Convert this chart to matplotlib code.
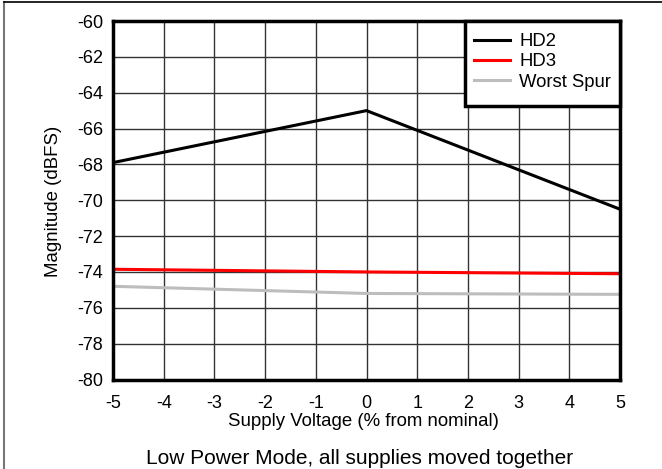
import matplotlib
matplotlib.use("Agg")
import matplotlib.pyplot as plt
from matplotlib.lines import Line2D
from matplotlib.patches import Rectangle

plt.rcParams['font.family'] = ['Liberation Sans', 'DejaVu Sans']

x_vals = [-5, 0, 5]
hd2 = [-67.9, -65.0, -70.5]
hd3 = [-73.85, -74.0, -74.1]
worst_spur = [-74.8, -75.2, -75.25]
x_ticks = [-5, -4, -3, -2, -1, 0, 1, 2, 3, 4, 5]
y_ticks = [-80, -78, -76, -74, -72, -70, -68, -66, -64, -62, -60]

W, H = 662, 469
AX_L, AX_R, AX_T, AX_B = 113, 620, 21, 379.5
fig = plt.figure(figsize=(W/100, H/100), dpi=100)
ax = fig.add_axes([AX_L/W, 1-AX_B/H, (AX_R-AX_L)/W, (AX_B-AX_T)/H])

ax.plot(x_vals, hd2, color='black', lw=2.2, label='HD2', zorder=3)
ax.plot(x_vals, hd3, color='#ff0000', lw=2.2, label='HD3', zorder=3)
ax.plot(x_vals, worst_spur, color='#bdbdbd', lw=2.2, label='Worst Spur', zorder=3)

ax.set_xlim(-5, 5)
ax.set_ylim(-80, -60)
ax.set_xticks(x_ticks)
ax.set_yticks(y_ticks)
ax.set_xticklabels([str(v) for v in x_ticks])
ax.set_yticklabels([str(v) for v in y_ticks])
ax.tick_params(length=0, labelsize=13)
ax.tick_params(axis='x', pad=11)
ax.tick_params(axis='y', pad=7)
ax.grid(True, color='#333333', lw=1.0)
ax.set_axisbelow(True)
for s in ax.spines.values():
    s.set_linewidth(2.5)
    s.set_color('black')
    s.set_zorder(5)

def ax_x(px):
    return (px - AX_L) / (AX_R - AX_L)

def ax_y(py):
    return (AX_B - py) / (AX_B - AX_T)

# legend frame
box_l, box_r, box_t, box_b = 465, 620, 21, 106
frame = Rectangle((ax_x(box_l), ax_y(box_b)), ax_x(box_r) - ax_x(box_l), ax_y(box_t) - ax_y(box_b),
                  transform=ax.transAxes, facecolor='white', edgecolor='black', lw=2.5,
                  zorder=6, clip_on=False)
ax.add_patch(frame)

leg = ax.legend(loc='center', bbox_to_anchor=(ax_x((box_l + box_r) / 2), ax_y(62)),
                fontsize=13.3, frameon=False, borderaxespad=0, borderpad=0,
                handlelength=1.95, handletextpad=0.5, labelspacing=0.18)
leg.set_zorder(7)

fig.text(363/W, 1-421/H, 'Supply Voltage (% from nominal)', ha='center', va='center', fontsize=13.4)
fig.text(54/W, 1-201/H, 'Magnitude (dBFS)', ha='center', va='center', rotation=90, fontsize=13.4)
fig.text(360/W, 1-458/H, 'Low Power Mode, all supplies moved together', ha='center', va='center', fontsize=15)

# outer frame (left and top edges)
fig.add_artist(Line2D([3.5/W, 3.5/W], [0, 1-2/H], transform=fig.transFigure, color='#777777', lw=1.5))
fig.add_artist(Line2D([3.5/W, 1], [1-2.5/H, 1-2.5/H], transform=fig.transFigure, color='black', lw=1.2))

fig.savefig('out.png', dpi=100)
